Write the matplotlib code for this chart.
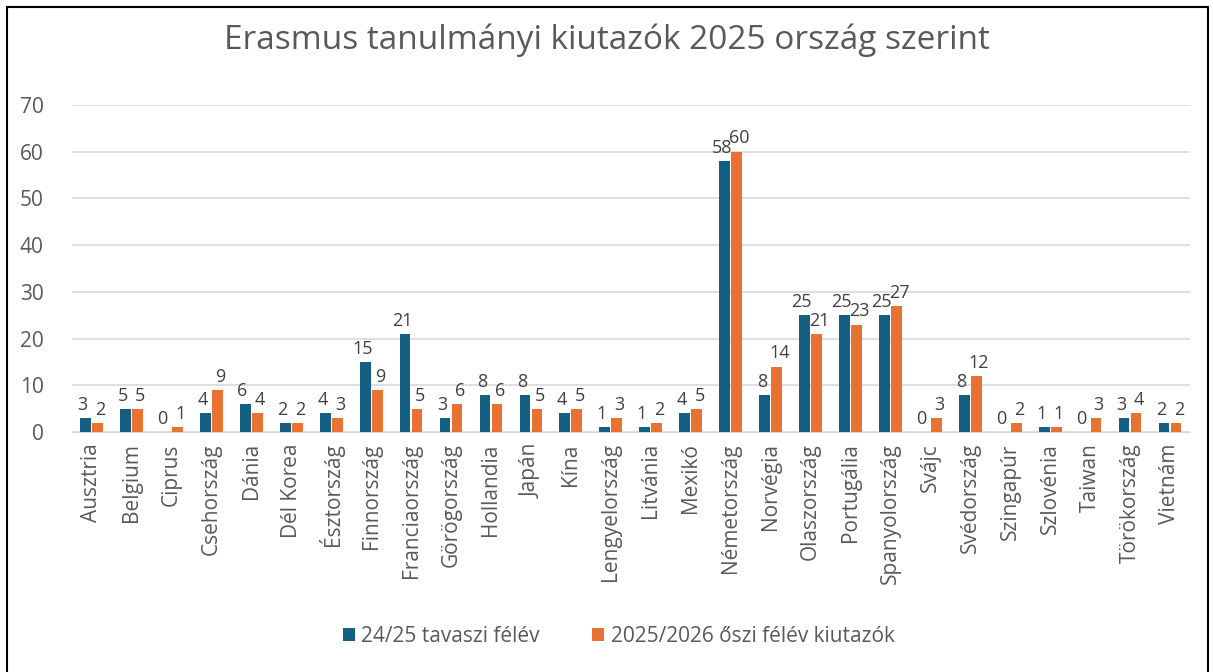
import numpy as np
import matplotlib.pyplot as plt
from matplotlib.patches import Rectangle

# data
countries = ["Ausztria", "Belgium", "Ciprus", "Csehország", "Dánia", "Dél Korea",
             "Észtország", "Finnország", "Franciaország", "Görögország", "Hollandia",
             "Japán", "Kína", "Lengyelország", "Litvánia", "Mexikó", "Németország",
             "Norvégia", "Olaszország", "Portugália", "Spanyolország", "Svájc",
             "Svédország", "Szingapúr", "Szlovénia", "Taiwan", "Törökország", "Vietnám"]
tavaszi = [3, 5, 0, 4, 6, 2, 4, 15, 21, 3, 8, 8, 4, 1, 1, 4, 58, 8, 25, 25, 25, 0, 8, 0, 1, 0, 3, 2]
oszi = [2, 5, 1, 9, 4, 2, 3, 9, 5, 6, 6, 5, 5, 3, 2, 5, 60, 14, 21, 23, 27, 3, 12, 2, 1, 3, 4, 2]
series_names = ["24/25 tavaszi félév", "2025/2026 őszi félév kiutazók"]

blue = "#156082"
orange = "#E97132"
txt = "#595959"

plt.rcParams['font.family'] = ['Open Sans', 'DejaVu Sans']

fig = plt.figure(figsize=(12.13, 6.72), dpi=100)
ax = fig.add_axes([0.059, 0.357, 0.922, 0.487])

x = np.arange(len(countries))
w = 0.27
b1 = ax.bar(x - 0.15, tavaszi, w, color=blue, label=series_names[0], zorder=3)
b2 = ax.bar(x + 0.15, oszi, w, color=orange, label=series_names[1], zorder=3)

# value labels above each bar, nudged apart a little
for xi, v in zip(x, tavaszi):
    ax.annotate(str(v), (xi - 0.15, v), xytext=(-2, 3), textcoords="offset points",
                ha="center", va="bottom", fontsize=13, color="#404040")
for xi, v in zip(x, oszi):
    ax.annotate(str(v), (xi + 0.15, v), xytext=(2, 3), textcoords="offset points",
                ha="center", va="bottom", fontsize=13, color="#404040")

ax.set_xlim(-0.5, len(countries) - 0.5)
ax.set_ylim(0, 70)
ax.set_yticks(range(0, 71, 10))
ax.set_xticks(x)
ax.set_xticklabels(countries, rotation=90, fontsize=15, color=txt)
ax.tick_params(axis="y", labelsize=15, labelcolor=txt, length=0, pad=20)
ax.tick_params(axis="x", length=0, pad=8)
ax.grid(axis="y", color="#d9d9d9", linewidth=1.2, zorder=0)
for s in ["top", "right", "left"]:
    ax.spines[s].set_visible(False)
ax.spines["bottom"].set_color("#d9d9d9")

fig.suptitle("Erasmus tanulmányi kiutazók 2025 ország szerint", y=0.965,
             fontsize=24, color=txt)

fig.legend(handles=[b1, b2], labels=series_names, loc="center", ncol=2,
           bbox_to_anchor=(0.51, 0.053), frameon=False, fontsize=15,
           labelcolor=txt, handlelength=0.6, handleheight=0.6,
           handletextpad=0.3, columnspacing=2.5)

fig.patches.append(Rectangle((0.006, -0.01), 0.99, 1.0, transform=fig.transFigure,
                             fill=False, edgecolor="black", linewidth=1.5))

fig.savefig("out.png", dpi=100)
